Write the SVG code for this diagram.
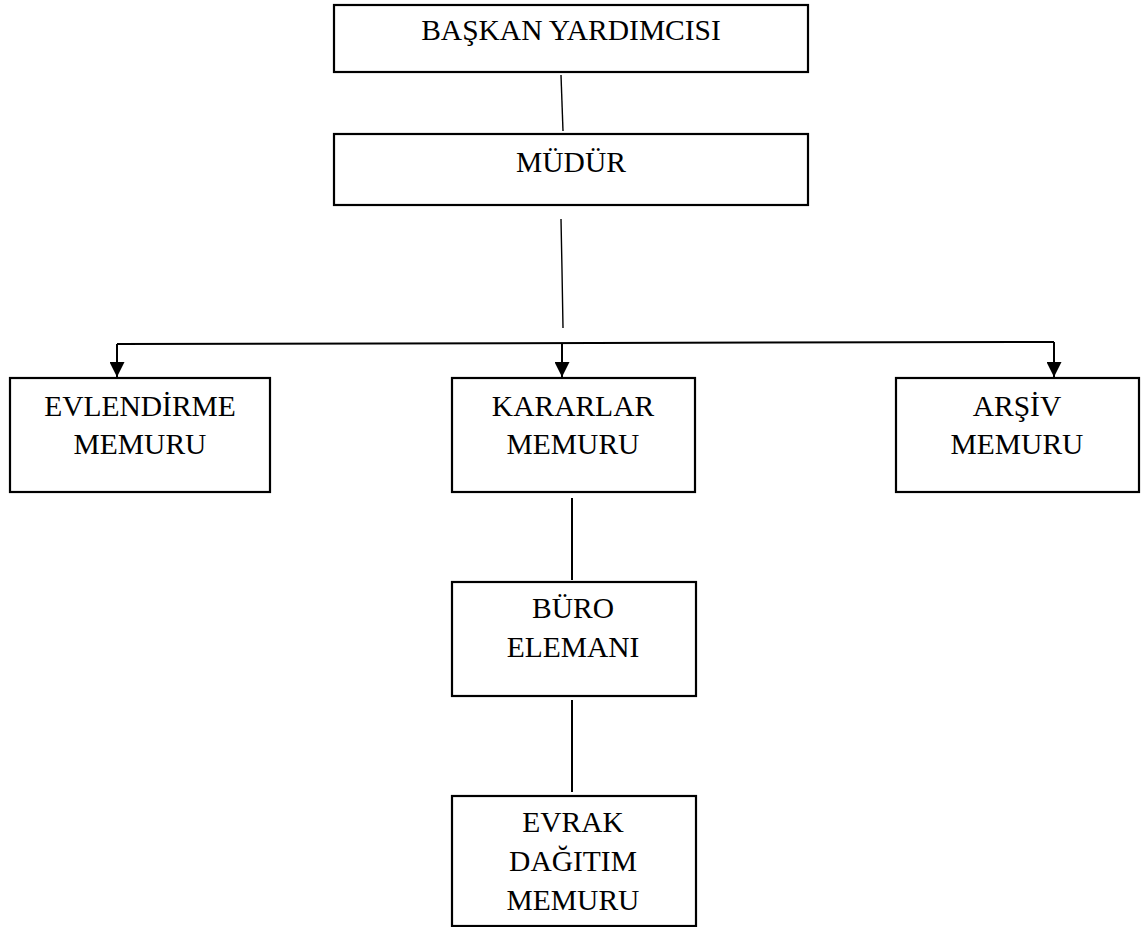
<svg xmlns="http://www.w3.org/2000/svg" width="1144" height="927" viewBox="0 0 1144 927">
<style>
.box{fill:#fff;stroke:#000;stroke-width:2.2}
.t{font-family:"Liberation Serif","Times New Roman",serif;font-size:29.5px;fill:#000;text-anchor:middle}
.ln{fill:none;stroke:#000;stroke-width:2}
.thin{fill:none;stroke:#000;stroke-width:1.4}
</style>
<defs>
<marker id="tri" markerUnits="userSpaceOnUse" markerWidth="15" markerHeight="15" refX="15" refY="7.5" orient="auto" viewBox="0 0 15 15">
<path d="M0,0 L15,7.5 L0,15 Z" fill="#000"/>
</marker>
</defs>
<rect width="1144" height="927" fill="#fff"/>
<g id="connectors">
<path class="thin" d="M561,75 L563,131"/>
<path class="thin" d="M561,219 L562,270 L563,328"/>
<path class="ln" d="M117,344 L1054,342"/>
<path class="ln" d="M117,344 L117,377" marker-end="url(#tri)"/>
<path class="ln" d="M562,343 L562,377" marker-end="url(#tri)"/>
<path class="ln" d="M1054,342 L1054,377" marker-end="url(#tri)"/>
<path class="ln" d="M572,498 L572,580"/>
<path class="ln" d="M572,700 L572,792"/>
</g>
<g id="baskan-yardimcisi">
<rect class="box" x="334" y="5" width="474" height="67"/>
<text class="t" x="571" y="40">BAŞKAN YARDIMCISI</text>
</g>
<g id="mudur">
<rect class="box" x="334" y="134" width="474" height="71"/>
<text class="t" x="571" y="172">MÜDÜR</text>
</g>
<g id="evlendirme-memuru">
<rect class="box" x="10" y="378" width="260" height="114"/>
<text class="t" x="140" y="416">EVLENDİRME</text>
<text class="t" x="140" y="454">MEMURU</text>
</g>
<g id="kararlar-memuru">
<rect class="box" x="452" y="378" width="243" height="114"/>
<text class="t" x="573" y="416">KARARLAR</text>
<text class="t" x="573" y="454">MEMURU</text>
</g>
<g id="arsiv-memuru">
<rect class="box" x="896" y="378" width="243" height="114"/>
<text class="t" x="1017" y="416">ARŞİV</text>
<text class="t" x="1017" y="454">MEMURU</text>
</g>
<g id="buro-elemani">
<rect class="box" x="452" y="582" width="244" height="114"/>
<text class="t" x="573" y="618">BÜRO</text>
<text class="t" x="573" y="657">ELEMANI</text>
</g>
<g id="evrak-dagitim-memuru">
<rect class="box" x="452" y="796" width="244" height="130"/>
<text class="t" x="573" y="832">EVRAK</text>
<text class="t" x="573" y="871">DAĞITIM</text>
<text class="t" x="573" y="910">MEMURU</text>
</g>
</svg>
